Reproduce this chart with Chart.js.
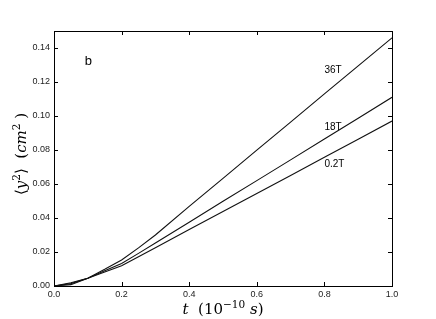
<!DOCTYPE html>
<html>
<head>
<meta charset="utf-8">
<script src="https://cdn.jsdelivr.net/npm/chart.js@4/dist/chart.umd.min.js"></script>
<style>
  html,body{margin:0;padding:0;background:#fff;}
  #wrap{width:436px;height:319px;}
</style>
</head>
<body>
<div id="wrap"><canvas id="c" width="436" height="319"></canvas></div>
<script>
// time axis (units of 1e-10 s) and <y^2> in cm^2
const tVals=[0,0.05,0.1,0.15,0.2,0.25,0.3,0.4,0.5,0.6,0.7,0.8,0.9,1.0];
const y36=[0,0.0008,0.0046,0.0098,0.0153,0.0224,0.0300,0.0468,0.0633,0.0799,0.0964,0.113,0.1295,0.146];
const y18=[0,0.0014,0.0046,0.0089,0.0133,0.0192,0.0253,0.0375,0.0498,0.062,0.0742,0.0865,0.0987,0.111];
const y02=[0,0.0019,0.0046,0.0082,0.0119,0.0172,0.0225,0.0332,0.0438,0.0544,0.065,0.0757,0.0863,0.097];
const seriesNames=['36T','18T','0.2T'];
// label anchors [t, y] for each curve name
const labelPos=[[0.8,0.127],[0.8,0.0935],[0.8,0.0715]];
const panelTag='b', panelPos=[0.1,0.132];
const xTicks=[0,0.2,0.4,0.6,0.8,1.0];
const yTicks=[0,0.02,0.04,0.06,0.08,0.10,0.12,0.14];

const SANS='"Liberation Sans", Arial, sans-serif';
const SERIF='"DejaVu Serif", serif';

function pts(ys){return tVals.map((t,i)=>({x:t,y:ys[i]}));}

// draw runs of text with italic / superscript pieces
function runs(ctx,parts,size){
  let w=0; const m=[];
  parts.forEach(p=>{const s=p.sup?size*0.7:size; ctx.font=(p.it?'italic ':'')+s+'px '+SERIF; const pw=ctx.measureText(p.t).width; m.push([p,s,pw]); w+=pw;});
  return {w,m};
}
function drawRuns(ctx,parts,size,cx,base){
  const r=runs(ctx,parts,size); let x=cx-r.w/2;
  ctx.textAlign='left'; ctx.textBaseline='alphabetic';
  r.m.forEach(([p,s,pw])=>{ctx.font=(p.it?'italic ':'')+s+'px '+SERIF; ctx.fillText(p.t,x,p.sup?base-size*0.42:base); x+=pw;});
}

const decor={
  id:'decor',
  afterDraw(chart){
    const ctx=chart.ctx, a=chart.chartArea, xs=chart.scales.x, ys=chart.scales.y;
    ctx.save();
    ctx.strokeStyle='#000'; ctx.lineWidth=1;
    ctx.strokeRect(Math.round(a.left)+0.5,Math.round(a.top)+0.5,Math.round(a.right-a.left),Math.round(a.bottom-a.top));
    const tl=4;
    ctx.beginPath();
    xTicks.forEach(v=>{const px=Math.round(xs.getPixelForValue(v))+0.5; ctx.moveTo(px,a.bottom); ctx.lineTo(px,a.bottom-tl); ctx.moveTo(px,a.top); ctx.lineTo(px,a.top+tl);});
    yTicks.forEach(v=>{const py=Math.round(ys.getPixelForValue(v))+0.5; ctx.moveTo(a.left,py); ctx.lineTo(a.left+tl,py); ctx.moveTo(a.right,py); ctx.lineTo(a.right-tl,py);});
    ctx.stroke();
    // curve names + panel tag
    ctx.fillStyle='#000'; ctx.textAlign='left'; ctx.textBaseline='middle';
    ctx.font='10px '+SANS;
    seriesNames.forEach((n,i)=>ctx.fillText(n,xs.getPixelForValue(labelPos[i][0]),ys.getPixelForValue(labelPos[i][1])));
    ctx.font='13px '+SANS;
    ctx.fillText(panelTag,xs.getPixelForValue(panelPos[0])-3,ys.getPixelForValue(panelPos[1]));
    // axis titles
    drawRuns(ctx,[{t:'t',it:1},{t:'  (10'},{t:'−10',sup:1},{t:' s',it:1},{t:')'}],15,223,314);
    ctx.translate(26,154); ctx.rotate(-Math.PI/2);
    drawRuns(ctx,[{t:'⟨'},{t:'y',it:1},{t:'2',sup:1},{t:'⟩  ('},{t:'cm',it:1},{t:'2',sup:1},{t:' )'}],15,0,0);
    ctx.restore();
  }
};

const mk=(d)=>({data:pts(d),borderColor:'#111',borderWidth:1.1,pointRadius:0,tension:0,fill:false});
new Chart(document.getElementById('c'),{
  type:'line',
  data:{datasets:[mk(y36),mk(y18),mk(y02)]},
  options:{
    responsive:false,animation:false,
    layout:{padding:{left:0,top:31,right:44,bottom:0}},
    plugins:{legend:{display:false},tooltip:{enabled:false}},
    scales:{
      x:{type:'linear',min:0,max:1,
        afterBuildTicks:s=>{s.ticks=xTicks.map(v=>({value:v}));},
        afterFit:s=>{s.height=33;},
        grid:{display:false,drawTicks:false},border:{display:false},
        ticks:{padding:3,color:'#222',font:{family:SANS,size:9},callback:v=>Number(v).toFixed(1),maxRotation:0}},
      y:{type:'linear',min:0,max:0.15,
        afterBuildTicks:s=>{s.ticks=yTicks.map(v=>({value:v}));},
        afterFit:s=>{s.width=54;},
        grid:{display:false,drawTicks:false},border:{display:false},
        ticks:{padding:4,color:'#222',font:{family:SANS,size:9},callback:v=>Number(v).toFixed(2)}}
    }
  },
  plugins:[decor]
});
</script>
</body>
</html>
